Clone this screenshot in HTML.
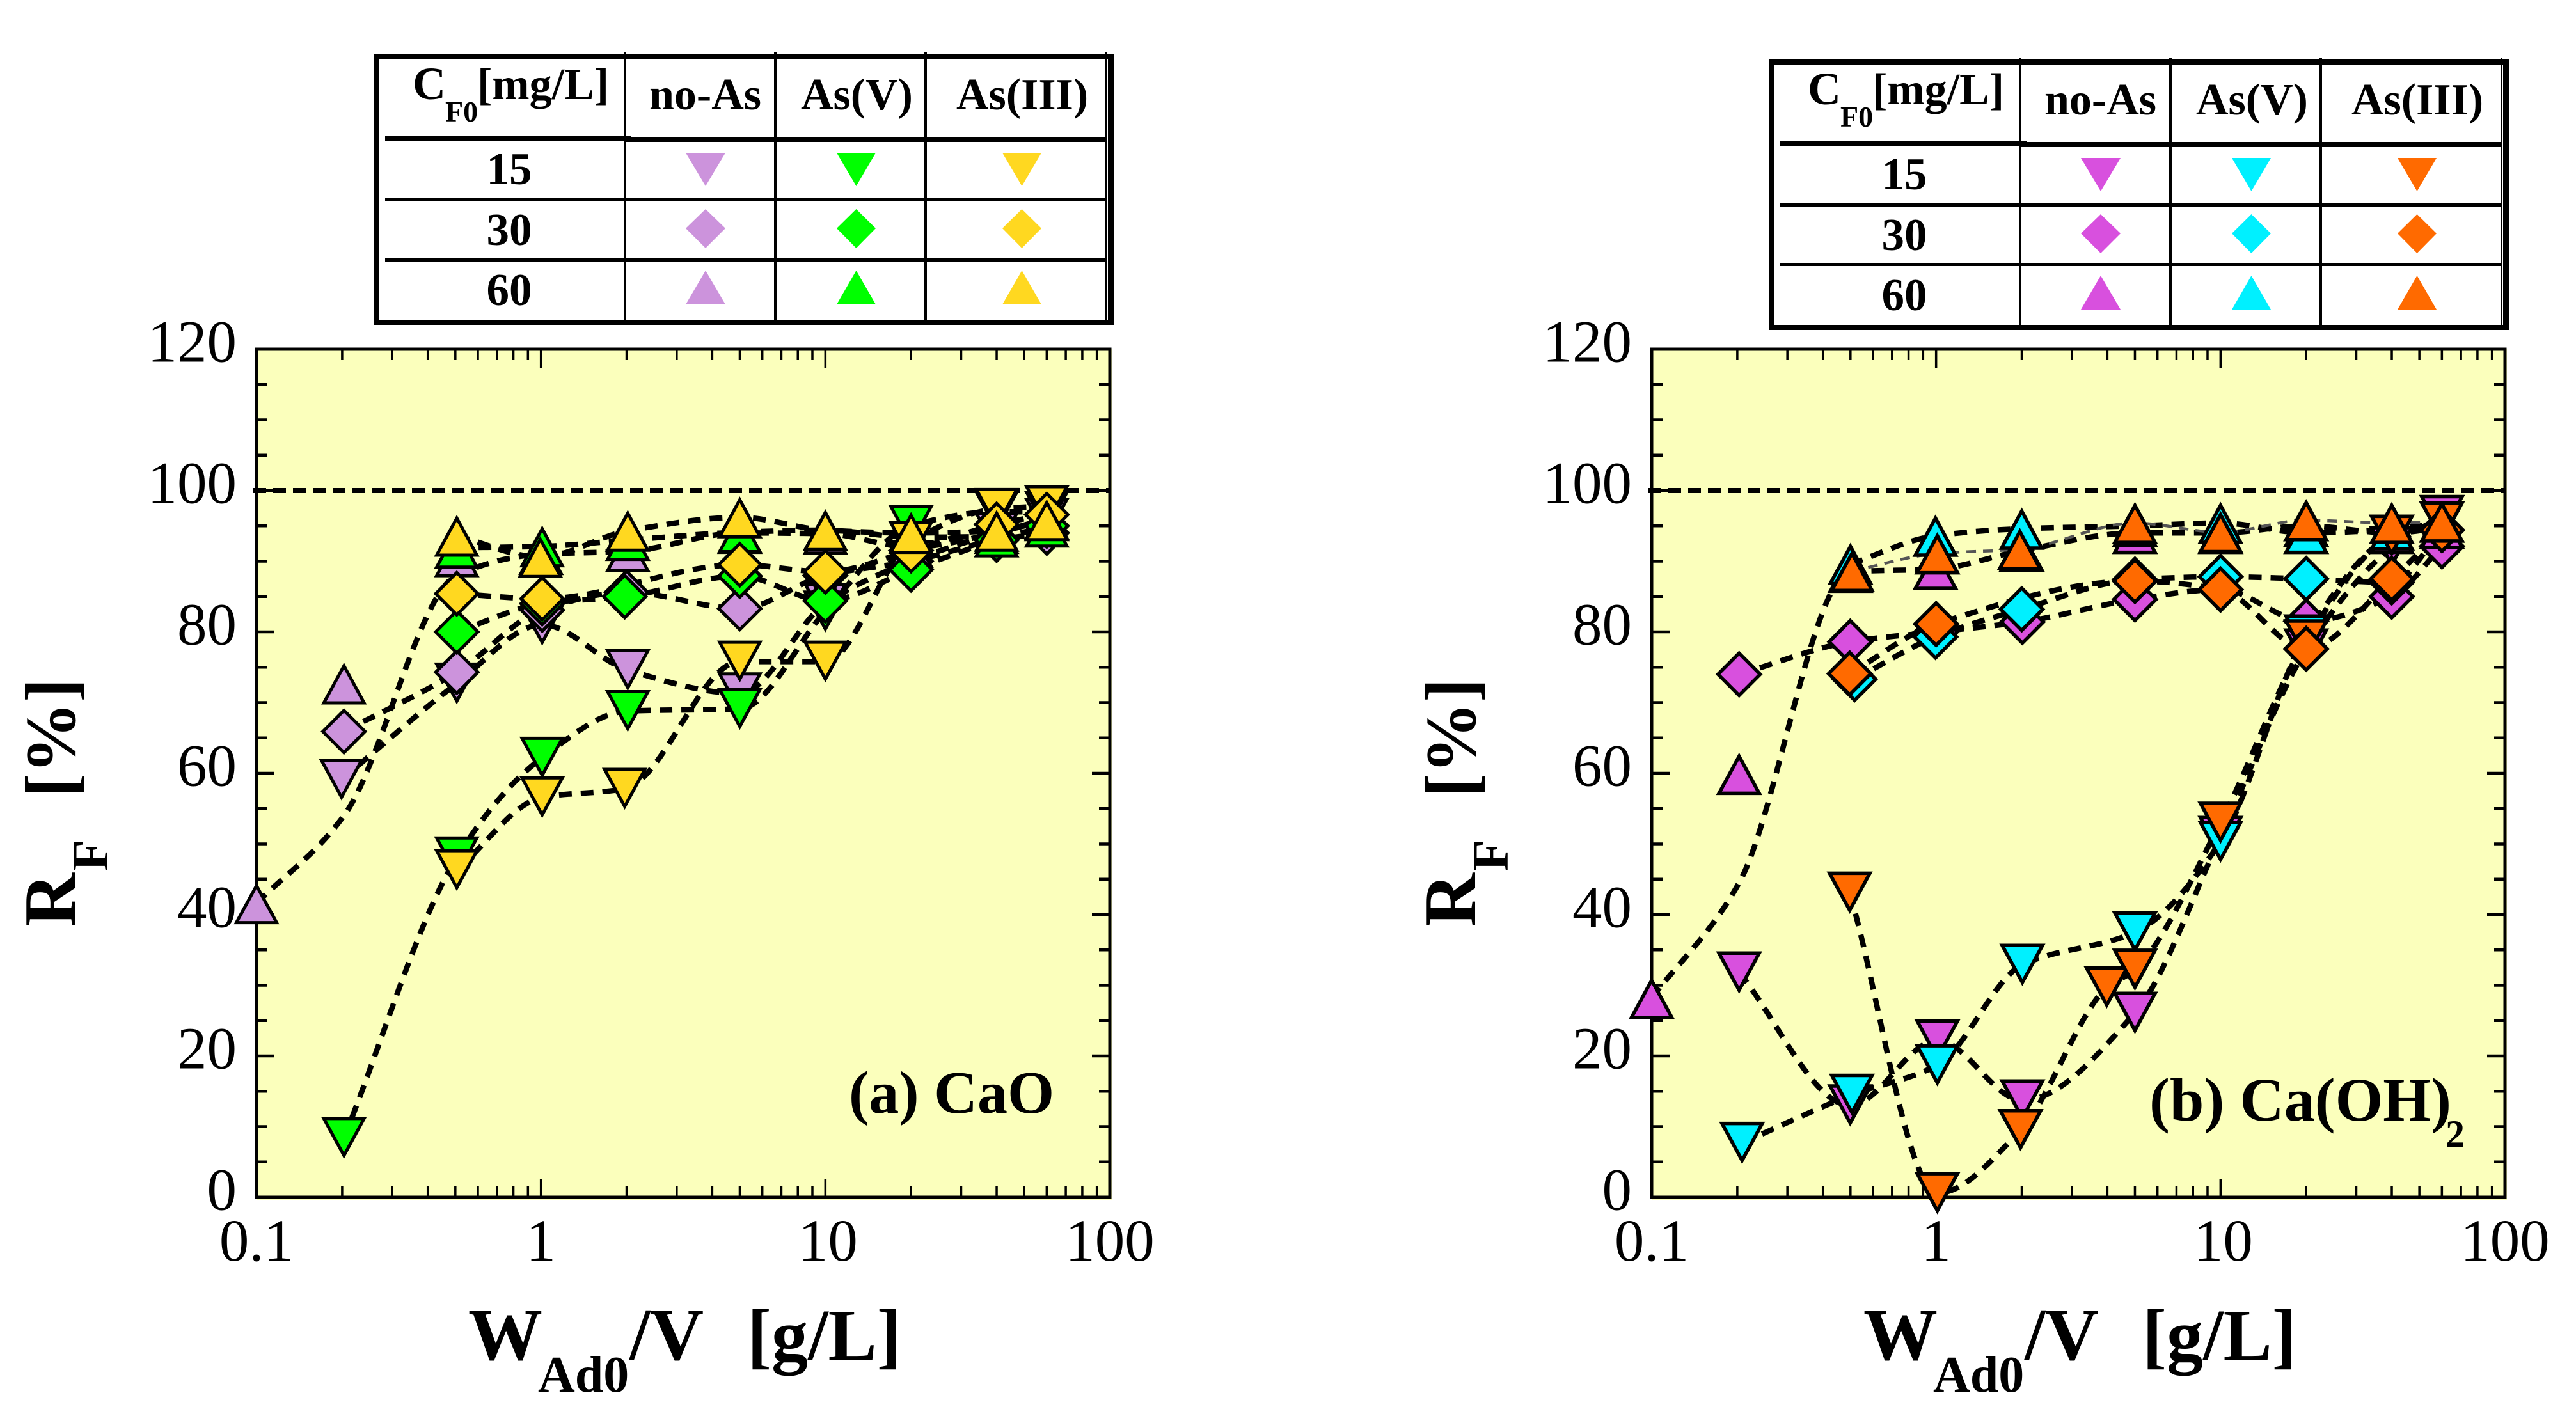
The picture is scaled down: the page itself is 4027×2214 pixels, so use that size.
<!DOCTYPE html>
<html lang="en">
<head>
<meta charset="utf-8">
<title>Fluoride removal RF versus adsorbent dose</title>
<style>
html,body{margin:0;padding:0;background:#fff;}
svg{display:block;}
text{font-family:"Liberation Serif",serif;fill:#000;}
.b{font-weight:bold;}
</style>
</head>
<body>
<svg id="figure" xmlns="http://www.w3.org/2000/svg" width="4027" height="2214" viewBox="0 0 4027 2214">
  <rect x="0" y="0" width="4027" height="2214" fill="#fff"/>
  <g id="panelA"></g>
  <g id="panelB"></g>

  <!-- Panel (a) labels -->
  <g>
    <text class="b" x="1327" y="1740" font-size="94">(a) CaO</text>
    <g>
      <text class="b" x="732" y="2126" font-size="116">W</text>
      <text class="b" x="841" y="2176" font-size="80">Ad0</text>
      <text class="b" x="984" y="2126" font-size="116">/V</text>
      <text class="b" x="1168" y="2126" font-size="114">[g/L]</text>
    </g>
    <g>
      <text class="b" transform="translate(117,1449) rotate(-90)" font-size="116">R</text>
      <text class="b" transform="translate(168,1362) rotate(-90)" font-size="80">F</text>
      <text class="b" transform="translate(117,1247) rotate(-90)" font-size="112">[%]</text>
    </g>
  </g>

  <!-- Panel (b) labels -->
  <g>
    <text class="b" x="3360" y="1752" font-size="96">(b) Ca(OH)</text>
    <text class="b" x="3823" y="1793" font-size="60">2</text>
    <g>
      <text class="b" x="2913" y="2126" font-size="116">W</text>
      <text class="b" x="3022" y="2176" font-size="80">Ad0</text>
      <text class="b" x="3165" y="2126" font-size="116">/V</text>
      <text class="b" x="3349" y="2126" font-size="114">[g/L]</text>
    </g>
    <g>
      <text class="b" transform="translate(2306,1449) rotate(-90)" font-size="116">R</text>
      <text class="b" transform="translate(2357,1362) rotate(-90)" font-size="80">F</text>
      <text class="b" transform="translate(2306,1247) rotate(-90)" font-size="112">[%]</text>
    </g>
  </g>

  <!-- Legend table (a) -->
  <g>
    <rect x="584" y="84" width="1157" height="9" fill="#000"/>
    <rect x="584" y="500" width="1157" height="8" fill="#000"/>
    <rect x="584" y="84" width="8" height="424" fill="#000"/>
    <rect x="1732" y="84" width="9" height="424" fill="#000"/>
    <rect x="1728" y="82" width="3" height="420" fill="#000"/>
    <rect x="975" y="82" width="4" height="420" fill="#000"/>
    <rect x="1210" y="82" width="4" height="420" fill="#000"/>
    <rect x="1445" y="82" width="4" height="420" fill="#000"/>
    <rect x="602" y="212" width="385" height="8" fill="#000"/>
    <rect x="976" y="214" width="753" height="8" fill="#000"/>
    <rect x="602" y="310" width="1127" height="5" fill="#000"/>
    <rect x="602" y="404" width="1127" height="5" fill="#000"/>
    <text class="b" x="645" y="155" font-size="72">C</text>
    <text class="b" x="696" y="190" font-size="46">F0</text>
    <text class="b" x="746" y="155" font-size="70">[mg/L]</text>
    <text class="b" x="1015" y="171" font-size="70">no-As</text>
    <text class="b" x="1252" y="171" font-size="70">As(V)</text>
    <text class="b" x="1495" y="171" font-size="70">As(III)</text>
    <text class="b" x="796" y="288" font-size="71" text-anchor="middle">15</text>
    <text class="b" x="796" y="383" font-size="71" text-anchor="middle">30</text>
    <text class="b" x="796" y="477" font-size="71" text-anchor="middle">60</text>
    <polygon points="1072,239 1134,239 1103,291" fill="#CC93DC"/>
    <polygon points="1103,327 1134,357 1103,388 1072,357" fill="#CC93DC"/>
    <polygon points="1103,423 1134,476 1072,476" fill="#CC93DC"/>
    <polygon points="1308,239 1369,239 1338.5,291" fill="#00FF00"/>
    <polygon points="1338.5,327 1369,357 1338.5,388 1308,357" fill="#00FF00"/>
    <polygon points="1338.5,423 1369,476 1308,476" fill="#00FF00"/>
    <polygon points="1567,239 1628,239 1597.5,291" fill="#FFD820"/>
    <polygon points="1597.5,327 1628,357 1597.5,388 1567,357" fill="#FFD820"/>
    <polygon points="1597.5,423 1628,476 1567,476" fill="#FFD820"/>
  </g>

  <!-- Legend table (b) -->
  <g transform="translate(2181,8)">
    <rect x="584" y="84" width="1157" height="9" fill="#000"/>
    <rect x="584" y="500" width="1157" height="8" fill="#000"/>
    <rect x="584" y="84" width="8" height="424" fill="#000"/>
    <rect x="1732" y="84" width="9" height="424" fill="#000"/>
    <rect x="1728" y="82" width="3" height="420" fill="#000"/>
    <rect x="975" y="82" width="4" height="420" fill="#000"/>
    <rect x="1210" y="82" width="4" height="420" fill="#000"/>
    <rect x="1445" y="82" width="4" height="420" fill="#000"/>
    <rect x="602" y="212" width="385" height="8" fill="#000"/>
    <rect x="976" y="214" width="753" height="8" fill="#000"/>
    <rect x="602" y="310" width="1127" height="5" fill="#000"/>
    <rect x="602" y="403" width="1127" height="5" fill="#000"/>
    <text class="b" x="645" y="155" font-size="72">C</text>
    <text class="b" x="696" y="190" font-size="46">F0</text>
    <text class="b" x="746" y="155" font-size="70">[mg/L]</text>
    <text class="b" x="1015" y="171" font-size="70">no-As</text>
    <text class="b" x="1252" y="171" font-size="70">As(V)</text>
    <text class="b" x="1495" y="171" font-size="70">As(III)</text>
    <text class="b" x="796" y="288" font-size="71" text-anchor="middle">15</text>
    <text class="b" x="796" y="383" font-size="71" text-anchor="middle">30</text>
    <text class="b" x="796" y="477" font-size="71" text-anchor="middle">60</text>
    <polygon points="1072,239 1134,239 1103,291" fill="#D850DE"/>
    <polygon points="1103,327 1134,357 1103,388 1072,357" fill="#D850DE"/>
    <polygon points="1103,423 1134,476 1072,476" fill="#D850DE"/>
    <polygon points="1308,239 1369,239 1338.5,291" fill="#00F0FF"/>
    <polygon points="1338.5,327 1369,357 1338.5,388 1308,357" fill="#00F0FF"/>
    <polygon points="1338.5,423 1369,476 1308,476" fill="#00F0FF"/>
    <polygon points="1567,239 1628,239 1597.5,291" fill="#FF6A00"/>
    <polygon points="1597.5,327 1628,357 1597.5,388 1567,357" fill="#FF6A00"/>
    <polygon points="1597.5,423 1628,476 1567,476" fill="#FF6A00"/>
  </g>
</svg>

<script>
// ---- axis tick values ----
const xDecades = [0.1, 1, 10, 100];
const xDecadeLabels = ['0.1', '1', '10', '100'];
const xMinorMultipliers = [2, 3, 4, 5, 6, 7, 8, 9];
const yMajorValues = [0, 20, 40, 60, 80, 100, 120];
const yMajorLabels = ['0', '20', '40', '60', '80', '100', '120'];
const yMinorValues = [5, 10, 15, 25, 30, 35, 45, 50, 55, 65, 70, 75, 85, 90, 95, 105, 110, 115];
const referenceValue = 100;

// ---- panel (a) CaO: marker readings ----
const a_noAs15_x = [0.199, 0.506, 1.01, 2.02, 5, 10, 20, 40, 60];
const a_noAs15_y = [59.1, 72.7, 81, 74.6, 71.3, 84, 90, 94, 96];
const a_noAs30_x = [0.203, 0.506, 1.01, 2.0, 5, 10, 20, 40, 60];
const a_noAs30_y = [65.9, 74.3, 83.1, 85.6, 83.3, 88, 90, 93, 94];
const a_noAs60_x = [0.1, 0.203, 0.506, 1, 2.02, 5, 10, 20, 40, 60];
const a_noAs60_y = [41.6, 72.7, 90.7, 91, 91.4, 94, 93.9, 92, 94, 96];
const a_noAs60_fit = [41.6, 54, 88, 91, 91.4, 94, 93.9, 92, 94, 96];
const a_v15_x = [0.203, 0.506, 1.01, 2.02, 5, 10, 20, 40, 60];
const a_v15_y = [8.4, 48.1, 62.2, 68.8, 69.1, 82.9, 95, 97, 97];
const a_v30_x = [0.506, 1.01, 1.97, 5, 10, 20, 40, 60];
const a_v30_y = [80, 84, 85, 87.9, 84.4, 88.8, 93, 95];
const a_v60_x = [0.506, 1.01, 2.02, 5, 10, 20, 40, 60];
const a_v60_y = [91.9, 92.1, 93, 94.1, 94.4, 93.4, 93.5, 94.9];
const a_iii15_x = [0.506, 1.01, 1.97, 5, 10, 20, 40, 60];
const a_iii15_y = [46.3, 56.6, 57.8, 75.8, 75.8, 92.7, 97.4, 97.8];
const a_iii30_x = [0.506, 1.01, 5, 10, 20, 40, 60];
const a_iii30_y = [85.4, 84.7, 89.5, 88.5, 91.5, 95.2, 96.6];
const a_iii60_x = [0.506, 0.995, 2.02, 5, 10, 20, 40, 60];
const a_iii60_y = [93.6, 90.6, 94.3, 96.2, 94.4, 94, 94.3, 95.8];

// ---- panel (b) Ca(OH)2: marker readings ----
const b_noAs15_x = [0.203, 0.499, 1.01, 2.01, 5, 10, 20, 40, 60];
const b_noAs15_y = [31.8, 13, 22.2, 13.7, 26.1, 51, 77.5, 92, 96.4];
const b_noAs30_x = [0.203, 0.499, 1, 2.01, 5, 10, 20, 40, 60];
const b_noAs30_y = [74, 78.6, 80, 81.4, 84.6, 86, 81.5, 85, 92.1];
const b_noAs60_x = [0.1, 0.203, 0.5, 0.995, 2, 5, 10, 20, 40, 60];
const b_noAs60_y = [28.2, 59.9, 88.5, 88.9, 91.5, 94, 94, 95, 94, 94.7];
const b_noAs60_fit = [28.2, 44.5, 88.5, 88.9, 91.5, 94, 94, 95, 94, 94.7];
const b_v15_x = [0.208, 0.506, 1.01, 2.01, 5, 10, 20, 40, 60];
const b_v15_y = [7.7, 14.5, 18.7, 32.9, 37.5, 50.3, 79.5, 93.6, 95.5];
const b_v30_x = [0.517, 0.995, 2.0, 5, 10, 20, 40, 60];
const b_v30_y = [73.3, 79.3, 83.2, 87.4, 87.8, 87.5, 87, 94.4];
const b_v60_x = [0.5, 0.995, 2.0, 5, 10, 20, 40, 60];
const b_v60_y = [89.6, 93.6, 94.6, 95, 95.4, 94, 94.5, 95.6];
const b_iii15_x = [0.497, 1.01, 1.98, 3.98, 5, 10, 20, 40, 60];
const b_iii15_y = [43.1, 0.6, 9.5, 29.7, 32.2, 53, 78.8, 93.6, 95.5];
const b_iii30_x = [0.497, 1, 5, 10, 20, 40, 60];
const b_iii30_y = [74.1, 81.1, 87.2, 86, 77.6, 87.5, 94.4];
const b_iii60_x = [0.506, 1.01, 1.97, 5, 10, 20, 40, 60];
const b_iii60_y = [88.6, 91.1, 91.7, 95.4, 94.1, 95.8, 95.4, 95.6];

// ---- series lists, drawn in this order ----
const seriesA = [
  {name: 'a-no-as-15', x: a_noAs15_x, y: a_noAs15_y, group: 'noAs', kind: 'down'},
  {name: 'a-no-as-30', x: a_noAs30_x, y: a_noAs30_y, group: 'noAs', kind: 'diamond'},
  {name: 'a-no-as-60', x: a_noAs60_x, y: a_noAs60_y, fit: a_noAs60_fit, group: 'noAs', kind: 'up'},
  {name: 'a-as-v-15', x: a_v15_x, y: a_v15_y, group: 'v', kind: 'down'},
  {name: 'a-as-v-30', x: a_v30_x, y: a_v30_y, group: 'v', kind: 'diamond'},
  {name: 'a-as-v-60', x: a_v60_x, y: a_v60_y, group: 'v', kind: 'up'},
  {name: 'a-as-iii-15', x: a_iii15_x, y: a_iii15_y, group: 'iii', kind: 'down'},
  {name: 'a-as-iii-30', x: a_iii30_x, y: a_iii30_y, group: 'iii', kind: 'diamond'},
  {name: 'a-as-iii-60', x: a_iii60_x, y: a_iii60_y, group: 'iii', kind: 'up'}
];
const seriesB = [
  {name: 'b-no-as-15', x: b_noAs15_x, y: b_noAs15_y, group: 'noAs', kind: 'down'},
  {name: 'b-no-as-30', x: b_noAs30_x, y: b_noAs30_y, group: 'noAs', kind: 'diamond'},
  {name: 'b-no-as-60', x: b_noAs60_x, y: b_noAs60_y, fit: b_noAs60_fit, group: 'noAs', kind: 'up'},
  {name: 'b-as-v-15', x: b_v15_x, y: b_v15_y, group: 'v', kind: 'down'},
  {name: 'b-as-v-30', x: b_v30_x, y: b_v30_y, group: 'v', kind: 'diamond'},
  {name: 'b-as-v-60', x: b_v60_x, y: b_v60_y, group: 'v', kind: 'up'},
  {name: 'b-as-iii-15', x: b_iii15_x, y: b_iii15_y, group: 'iii', kind: 'down'},
  {name: 'b-as-iii-30', x: b_iii30_x, y: b_iii30_y, group: 'iii', kind: 'diamond'},
  {name: 'b-as-iii-60', x: b_iii60_x, y: b_iii60_y, group: 'iii', kind: 'up', thin: true}
];

const SVGNS = 'http://www.w3.org/2000/svg';
const PLOT_W = 1334, TOP = 546, BOTTOM = 1872, DECADES = 3;
const paletteA = {noAs: '#CC93DC', v: '#00FF00', iii: '#FFD820'};
const paletteB = {noAs: '#D850DE', v: '#00F0FF', iii: '#FF6A00'};

function make(tag, attrs, parent) {
  const el = document.createElementNS(SVGNS, tag);
  for (const k in attrs) el.setAttribute(k, attrs[k]);
  parent.appendChild(el);
  return el;
}

// Monotone cubic curve: no overshoot past the points it joins.
function splinePath(pts) {
  const n = pts.length;
  const seg = [];
  for (let i = 0; i < n - 1; i++) {
    const dx = Math.max(pts[i + 1][0] - pts[i][0], 0.01);
    seg.push((pts[i + 1][1] - pts[i][1]) / dx);
  }
  const tan = [];
  for (let i = 0; i < n; i++) {
    if (i === 0) tan.push(seg[0] || 0);
    else if (i === n - 1) tan.push(seg[n - 2] || 0);
    else if (seg[i - 1] * seg[i] <= 0) tan.push(0);
    else tan.push(2 * seg[i - 1] * seg[i] / (seg[i - 1] + seg[i]));
  }
  let d = 'M' + pts[0][0].toFixed(1) + ' ' + pts[0][1].toFixed(1);
  for (let i = 0; i < n - 1; i++) {
    const h = (pts[i + 1][0] - pts[i][0]) / 3;
    d += 'C' + (pts[i][0] + h).toFixed(1) + ' ' + (pts[i][1] + tan[i] * h).toFixed(1) + ' '
      + (pts[i + 1][0] - h).toFixed(1) + ' ' + (pts[i + 1][1] - tan[i + 1] * h).toFixed(1) + ' '
      + pts[i + 1][0].toFixed(1) + ' ' + pts[i + 1][1].toFixed(1);
  }
  return d;
}

function markerPoints(kind, cx, cy) {
  if (kind === 'up') return [[cx, cy - 27.6], [cx + 31.5, cy + 30.3], [cx - 31.5, cy + 30.3]];
  if (kind === 'down') return [[cx - 31.5, cy - 30.3], [cx + 31.5, cy - 30.3], [cx, cy + 27.6]];
  return [[cx, cy - 33], [cx + 33, cy], [cx, cy + 33], [cx - 33, cy]];
}

function drawPanel(root, left, series, palette, markStroke) {
  const right = left + PLOT_W;
  const xPx = v => left + (Math.log10(v) + 1) * PLOT_W / DECADES;
  const yPx = v => BOTTOM - (v / 120) * (BOTTOM - TOP);

  const bg = make('rect', {x: left, y: TOP, width: PLOT_W + 3, height: BOTTOM - TOP + 4, fill: '#FBFFBC'}, root);
  
  

  // x ticks, bottom and top
  xDecades.forEach((dec, i) => {
    if (i > 0 && i < xDecades.length - 1) {
      const px = xPx(dec);
      const t1 = make('line', {x1: px, x2: px, y1: BOTTOM, y2: BOTTOM - 28, stroke: '#000', 'stroke-width': 3.5}, root);
      
      
      const t2 = make('line', {x1: px, x2: px, y1: TOP, y2: TOP + 30, stroke: '#000', 'stroke-width': 3.5}, root);
      
      
    }
    if (i < xDecades.length - 1) {
      xMinorMultipliers.forEach(m => {
        const px = xPx(dec * m);
        const t1 = make('line', {x1: px, x2: px, y1: BOTTOM, y2: BOTTOM - 17, stroke: '#000', 'stroke-width': 3.5}, root);
        
        
        const t2 = make('line', {x1: px, x2: px, y1: TOP, y2: TOP + 17, stroke: '#000', 'stroke-width': 3.5}, root);
        
        
      });
    }
    const offs = [0, 0, 4, 0];
    const label = make('text', {x: xPx(dec) + offs[i], y: 1971, 'font-size': 93, 'text-anchor': 'middle'}, root);
    label.textContent = xDecadeLabels[i];
    
    
  });

  // y ticks, left and right
  yMinorValues.forEach(v => {
    const py = yPx(v);
    const t1 = make('line', {x1: left, x2: left + 17, y1: py, y2: py, stroke: '#000', 'stroke-width': 4.5}, root);
    
    
    const t2 = make('line', {x1: right, x2: right - 17, y1: py, y2: py, stroke: '#000', 'stroke-width': 4.5}, root);
    
    
  });
  yMajorValues.forEach((v, i) => {
    const py = yPx(v);
    if (i > 0 && i < yMajorValues.length - 1) {
      const t1 = make('line', {x1: left, x2: left + 28, y1: py, y2: py, stroke: '#000', 'stroke-width': 4.5}, root);
      
      
      const t2 = make('line', {x1: right, x2: right - 28, y1: py, y2: py, stroke: '#000', 'stroke-width': 4.5}, root);
      
      
    }
    const label = make('text', {x: left - 31, y: py + 19.5, 'font-size': 93, 'text-anchor': 'end'}, root);
    label.textContent = yMajorLabels[i];
    
    
  });

  // axis frame
  const frame = make('rect', {x: left, y: TOP, width: PLOT_W, height: BOTTOM - TOP, fill: 'none', stroke: '#000', 'stroke-width': 5}, root);
  
  

  // reference line at 100 %
  const ref = make('line', {x1: left - 5, x2: right, y1: yPx(referenceValue), y2: yPx(referenceValue), stroke: '#000', 'stroke-width': 8, 'stroke-dasharray': '20 11'}, root);
  
  

  // fitted curves
  series.forEach(s => {
    const yVals = s.fit || s.y;
    const pts = s.x.map((xv, i) => [xPx(xv), yPx(yVals[i])]);
    const style = s.thin
      ? {stroke: '#555', 'stroke-width': 4.5, 'stroke-dasharray': '15 11'}
      : {stroke: '#000', 'stroke-width': 8.5, 'stroke-dasharray': '20 14'};
    const line = make('path', Object.assign({d: splinePath(pts), fill: 'none'}, style), root);
    
    
  });

  // markers
  series.forEach(s => {
    s.x.forEach((xv, i) => {
      const pts = markerPoints(s.kind, xPx(xv), yPx(s.y[i]));
      const mark = make('polygon', {
        points: pts.map(p => p[0].toFixed(1) + ',' + p[1].toFixed(1)).join(' '),
        fill: palette[s.group], stroke: '#000', 'stroke-width': markStroke, 'stroke-linejoin': 'miter', 'stroke-miterlimit': 8
      }, root);
      
      
    });
  });
}

drawPanel(document.getElementById('panelA'), 401, seriesA, paletteA, 5);
drawPanel(document.getElementById('panelB'), 2582, seriesB, paletteB, 5.5);
</script>
</body>
</html>
